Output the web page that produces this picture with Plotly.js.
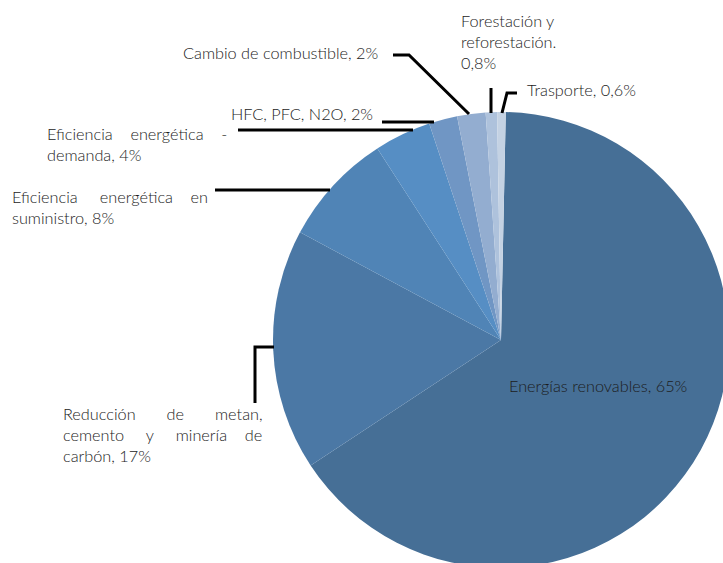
<!DOCTYPE html>
<html>
<head>
<meta charset="utf-8">
<script src="https://cdn.plot.ly/plotly-3.0.1.min.js"></script>
<style>
html,body{margin:0;padding:0;overflow:hidden;background:#fff;width:723px;height:563px;}
#chart{position:absolute;left:0;top:0;}
</style>
</head>
<body>
<div id="chart"></div>
<script>
// Data
const categories = [
  "Energías renovables",
  "Reducción de metan, cemento y minería de carbón",
  "Eficiencia energética en suministro",
  "Eficiencia energética - demanda",
  "HFC, PFC, N2O",
  "Cambio de combustible",
  "Forestación y reforestación.",
  "Trasporte"
];
const values = [65, 17, 8, 4, 2, 2, 0.8, 0.6];
const valueLabels = ["65%", "17%", "8%", "4%", "2%", "2%", "0,8%", "0,6%"];
const sliceColors = ["#466f96", "#4b78a5", "#5084b6", "#568ec4", "#7096c4", "#93add0", "#aec2dc", "#c4d2e3"];

const W = 760, H = 600;
const px = x => x / W;
const py = y => 1 - y / H;

const font = {family: "Lato, 'Open Sans', sans-serif", size: 16.3, color: "#1c1c1c", weight: 300};

function ann(text, x, y, extra) {
  return Object.assign({
    text: text, xref: "paper", yref: "paper", x: px(x), y: py(y),
    xanchor: "left", yanchor: "top", align: "left", showarrow: false,
    font: font
  }, extra || {});
}
const sp = n => "\u00a0".repeat(n);

const annotations = [
  ann(categories[6].replace(" reforestación", "<br>reforestación") + "<br>" + valueLabels[6], 459, 9),
  ann(categories[7] + ", " + valueLabels[7], 525, 78),
  ann(categories[5] + ", " + valueLabels[5], 181, 41),
  ann(categories[4] + ", " + valueLabels[4], 229, 102),
  ann("Eficiencia" + sp(4) + "energética" + sp(4) + "-<br>demanda, " + valueLabels[3], 45, 122),
  ann("Eficiencia" + sp(5) + "energética" + sp(4) + "en<br>suministro, " + valueLabels[2], 10, 185),
  ann("Reducción" + sp(7) + "de" + sp(7) + "metan,<br>cemento" + sp(5) + "y" + sp(5) + "minería" + sp(4) + "de<br>carbón, " + valueLabels[1], 61, 402),
  ann(categories[0] + ", " + valueLabels[0], 507, 374)
];

function path(points) {
  return "M" + points.map(p => px(p[0]) + "," + py(p[1])).join(" L");
}
const lineStyle = {color: "#000", width: 3};
const leaders = [
  [[393, 55], [409, 55], [469, 114]],
  [[491, 88], [491, 113]],
  [[517, 93], [507, 93], [502, 113]],
  [[382, 122], [434, 122]],
  [[238, 130], [413, 130]],
  [[215, 190], [330, 190]],
  [[255, 403], [255, 347], [274, 347]]
];
const shapes = leaders.map(p => ({type: "path", xref: "paper", yref: "paper", path: path(p), line: lineStyle}));

const trace = {
  type: "pie",
  labels: categories,
  values: values,
  sort: false,
  direction: "clockwise",
  rotation: 1.2,
  marker: {colors: sliceColors, line: {color: "rgba(255,255,255,0)", width: 0}},
  textinfo: "none",
  hoverinfo: "none",
  showlegend: false,
  domain: {x: [px(273), px(729)], y: [py(568), py(112)]}
};

Plotly.newPlot("chart", [trace], {
  width: W, height: H,
  margin: {l: 0, r: 0, t: 0, b: 0},
  paper_bgcolor: "#fff",
  showlegend: false,
  annotations: annotations,
  shapes: shapes
}, {displayModeBar: false, staticPlot: true});
</script>
</body>
</html>
